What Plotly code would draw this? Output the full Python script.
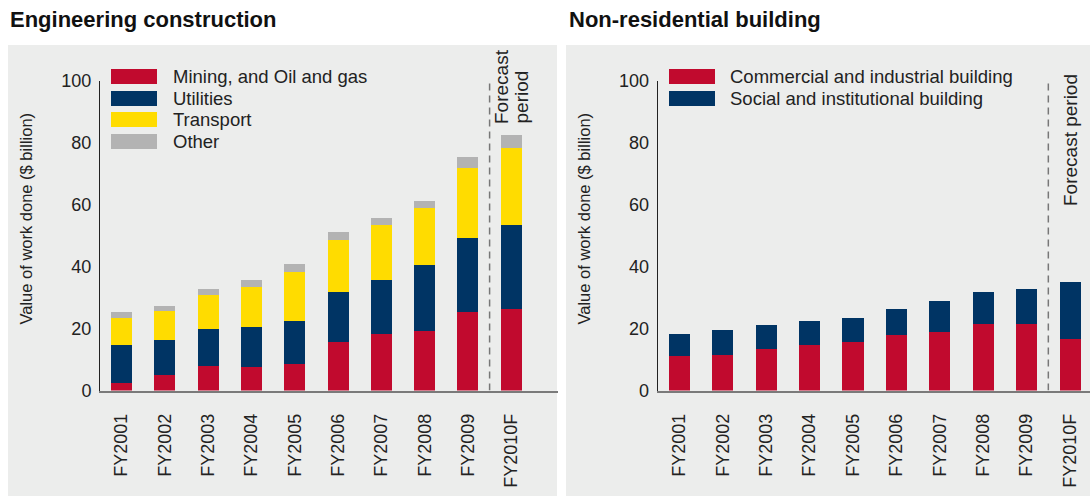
import plotly.graph_objects as go

W, H = 1090, 496

years = ["FY2001", "FY2002", "FY2003", "FY2004", "FY2005", "FY2006", "FY2007", "FY2008", "FY2009", "FY2010F"]

# Engineering construction ($ billion), stacked components
eng_mining = [2.4, 5.0, 8.0, 7.6, 8.5, 15.6, 18.2, 19.2, 25.3, 26.3]
eng_utilities = [12.3, 11.3, 11.8, 12.9, 13.9, 16.2, 17.4, 21.3, 23.9, 27.1]
eng_transport = [8.8, 9.3, 11.0, 12.9, 15.8, 16.7, 17.8, 18.5, 22.7, 24.9]
eng_other = [1.8, 1.7, 1.9, 2.2, 2.6, 2.6, 2.2, 2.1, 3.4, 4.1]

# Non-residential building ($ billion)
nr_commercial = [11.1, 11.4, 13.4, 14.7, 15.6, 17.9, 18.9, 21.5, 21.5, 16.6]
nr_social = [7.1, 8.1, 7.7, 7.7, 7.8, 8.4, 10.0, 10.3, 11.2, 18.4]

eng_labels = ["Mining, and Oil and gas", "Utilities", "Transport", "Other"]
nr_labels = ["Commercial and industrial building", "Social and institutional building"]

RED, NAVY, YELLOW, GREY = "#c10a2e", "#003464", "#ffdc00", "#b3b3b3"
BG = "#ecedec"
TXT = "#222222"
FONT = "Liberation Sans, Arial, Helvetica, sans-serif"

fig = go.Figure()
for vals, name, col in zip([eng_mining, eng_utilities, eng_transport, eng_other], eng_labels,
                           [RED, NAVY, YELLOW, GREY]):
    fig.add_trace(go.Bar(x=years, y=vals, name=name, marker=dict(color=col, line=dict(width=0)),
                         xaxis="x", yaxis="y", showlegend=False))
for vals, name, col in zip([nr_commercial, nr_social], nr_labels, [RED, NAVY]):
    fig.add_trace(go.Bar(x=years, y=vals, name=name, marker=dict(color=col, line=dict(width=0)),
                         xaxis="x2", yaxis="y2", showlegend=False))

def px(x):
    return x / W

def py(y):
    return 1 - y / H

y_dom = [py(390.5), py(80.5)]

axis_common = dict(showgrid=False, zeroline=False, fixedrange=True, automargin=False)
xax = dict(axis_common, type="category", tickangle=-90, ticks="", showline=True, linecolor="#7a7a7a",
           linewidth=2, tickfont=dict(family=FONT, size=18, color=TXT), ticklabelstandoff=14)
yax = dict(axis_common, range=[0, 100], tickvals=[0, 20, 40, 60, 80, 100], showline=True,
           linecolor="#222222", linewidth=1, ticks="", tickfont=dict(family=FONT, size=18, color=TXT),
           ticklabelstandoff=4)

fig.update_layout(
    width=W, height=H, autosize=False, margin=dict(l=0, r=0, t=0, b=0, pad=0),
    paper_bgcolor="white", plot_bgcolor="rgba(0,0,0,0)",
    barmode="stack", bargap=0.515,
    font=dict(family=FONT, color=TXT),
    xaxis=dict(xax, domain=[px(100), px(558)], range=[-0.5, 10.08], anchor="y"),
    yaxis=dict(yax, domain=y_dom, anchor="x"),
    xaxis2=dict(xax, domain=[px(657.7), 1.0], range=[-0.5, 9.46], anchor="y2"),
    yaxis2=dict(yax, domain=y_dom, anchor="x2"),
)

shapes = [
    dict(type="rect", xref="paper", yref="paper", x0=px(8), x1=px(557), y0=0, y1=py(45),
         fillcolor=BG, line=dict(width=0), layer="below"),
    dict(type="rect", xref="paper", yref="paper", x0=px(566), x1=1.0, y0=0, y1=py(45),
         fillcolor=BG, line=dict(width=0), layer="below"),
    dict(type="line", xref="x", yref="y", x0=8.5, x1=8.5, y0=0, y1=100,
         line=dict(color="#777777", width=1.5, dash="7px,5px")),
    dict(type="line", xref="x2", yref="y2", x0=8.5, x1=8.5, y0=0, y1=100,
         line=dict(color="#777777", width=1.5, dash="7px,5px")),
]

annotations = [
    dict(text="<b>Engineering construction</b>", xref="paper", yref="paper", x=px(8), y=py(19),
         xanchor="left", yanchor="middle", showarrow=False, font=dict(size=22, color="#111111")),
    dict(text="<b>Non-residential building</b>", xref="paper", yref="paper", x=px(567), y=py(19),
         xanchor="left", yanchor="middle", showarrow=False, font=dict(size=22, color="#111111")),
    dict(text="Value of work done ($ billion)", xref="paper", yref="paper", x=px(25), y=py(218.5),
         xanchor="center", yanchor="middle", textangle=-90, showarrow=False, font=dict(size=16.5, color=TXT)),
    dict(text="Value of work done ($ billion)", xref="paper", yref="paper", x=px(583), y=py(218.5),
         xanchor="center", yanchor="middle", textangle=-90, showarrow=False, font=dict(size=16.5, color=TXT)),
    dict(text="Forecast", xref="paper", yref="paper", x=px(501.5), y=py(126),
         xanchor="center", yanchor="bottom", textangle=-90, showarrow=False, font=dict(size=19, color=TXT)),
    dict(text="period", xref="paper", yref="paper", x=px(521), y=py(126),
         xanchor="center", yanchor="bottom", textangle=-90, showarrow=False, font=dict(size=19, color=TXT)),
    dict(text="Forecast period", xref="paper", yref="paper", x=px(1070), y=py(208),
         xanchor="center", yanchor="bottom", textangle=-90, showarrow=False, font=dict(size=19, color=TXT)),
]

# Custom legends (swatches + labels)
eng_rows = [76.5, 98.5, 119.5, 141.5]
for yy, name, col in zip(eng_rows, eng_labels, [RED, NAVY, YELLOW, GREY]):
    shapes.append(dict(type="rect", xref="paper", yref="paper", x0=px(111), x1=px(157),
                       y0=py(yy + 7.5), y1=py(yy - 7.5), fillcolor=col, line=dict(width=0)))
    annotations.append(dict(text=name, xref="paper", yref="paper", x=px(171), y=py(yy),
                            xanchor="left", yanchor="middle", showarrow=False,
                            font=dict(size=18.5, color=TXT)))
nr_rows = [76.5, 98.5]
for yy, name, col in zip(nr_rows, nr_labels, [RED, NAVY]):
    shapes.append(dict(type="rect", xref="paper", yref="paper", x0=px(669), x1=px(715),
                       y0=py(yy + 7.5), y1=py(yy - 7.5), fillcolor=col, line=dict(width=0)))
    annotations.append(dict(text=name, xref="paper", yref="paper", x=px(728), y=py(yy),
                            xanchor="left", yanchor="middle", showarrow=False,
                            font=dict(size=18.5, color=TXT)))

fig.update_layout(shapes=shapes, annotations=annotations)
fig.write_html("out.html", config={"responsive": False, "displayModeBar": False},
               post_script="document.body.style.margin='0';document.body.style.padding='0';")
